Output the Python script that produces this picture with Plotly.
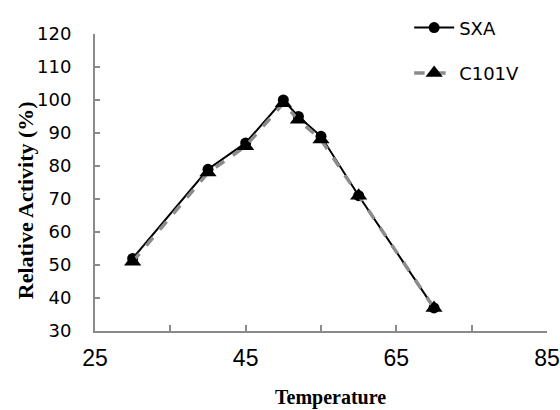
import plotly.graph_objects as go

temperature = [30, 40, 45, 50, 52, 55, 60, 70]
sxa = [52, 79, 87, 100, 95, 89, 71, 37]
c101v = [51, 78, 86, 99, 94, 88, 71, 37]

x_tickvals = [25, 35, 45, 55, 65, 75, 85]
x_ticktext = ["25", "", "45", "", "65", "", "85"]
y_tickvals = [30, 40, 50, 60, 70, 80, 90, 100, 110, 120]

fig = go.Figure()
fig.add_trace(go.Scatter(
    x=temperature, y=sxa, name="SXA", mode="lines+markers",
    line=dict(color="black", width=2),
    marker=dict(symbol="circle", size=11, color="black"),
    legendgroup="a",
))
fig.add_trace(go.Scatter(
    x=temperature, y=c101v, name="C101V", mode="lines+markers",
    line=dict(color="#8c8c8c", width=3.5, dash="dash"),
    marker=dict(symbol="triangle-up", size=15, color="black"),
    legendgroup="b",
))

axis_color = "#8a8a8a"
fig.update_layout(
    width=560, height=410,
    margin=dict(l=95, r=13, t=34, b=79, autoexpand=False),
    paper_bgcolor="white", plot_bgcolor="white",
    showlegend=True,
    legend=dict(x=0.695, y=1.083, xanchor="left", yanchor="top",
                font=dict(family="DejaVu Sans", size=18, color="black"),
                tracegroupgap=19, bgcolor="rgba(0,0,0,0)", itemwidth=40),
    xaxis=dict(range=[25, 85], tickvals=x_tickvals, ticktext=x_ticktext,
               ticks="inside", ticklen=6, tickwidth=1.5, tickcolor=axis_color,
               showline=True, linecolor=axis_color, linewidth=2,
               showgrid=False, zeroline=False,
               tickfont=dict(family="Liberation Sans", size=23, color="black"),
               ticklabelstandoff=5),
    yaxis=dict(range=[30, 120], tickvals=y_tickvals,
               ticks="inside", ticklen=5, tickwidth=1.5, tickcolor=axis_color,
               showline=True, linecolor=axis_color, linewidth=2,
               showgrid=False, zeroline=False,
               tickfont=dict(family="DejaVu Sans", size=18, color="black"),
               ticklabelstandoff=18),
)

fig.add_annotation(text="<b>Temperature</b>", xref="paper", yref="paper",
                   x=0.52, y=-0.178, xanchor="center", yanchor="top",
                   showarrow=False,
                   font=dict(family="Liberation Serif", size=20, color="black"))
fig.add_annotation(text="<b>Relative Activity (%)</b>", xref="paper", yref="paper",
                   x=-0.155, y=0.44, xanchor="center", yanchor="middle",
                   textangle=-90, showarrow=False,
                   font=dict(family="Liberation Serif", size=22, color="black"))

fig.write_html("out.html")
